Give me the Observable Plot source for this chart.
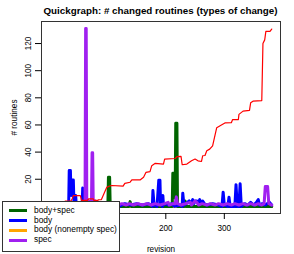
<!DOCTYPE html>
<html><head><meta charset="utf-8">
<script src="https://cdn.jsdelivr.net/npm/d3@7"></script>
<script src="https://cdn.jsdelivr.net/npm/@observablehq/plot@0.6"></script>
<style>
body{margin:0;background:#fff;font-family:"Liberation Sans",Arial,sans-serif;}
#wrap{position:relative;width:294px;height:254px;overflow:hidden;}
#title{position:absolute;left:41px;width:239px;top:0;line-height:21px;font-size:9.8px;font-weight:bold;text-align:center;white-space:nowrap;color:#000;}
#legend{position:absolute;left:2px;top:200.5px;width:118px;height:51.5px;box-sizing:border-box;border:1px solid #333;background:#fff;padding-top:4.2px;}
.row{height:9.87px;line-height:9.87px;font-size:8.4px;white-space:nowrap;position:relative;}
.sw{position:absolute;left:6px;top:3.4px;width:18px;height:3px;}
.lb{position:absolute;left:31px;top:0;}
</style></head>
<body>
<div id="wrap"><div id="chart"></div><div id="title"></div><div id="legend"></div></div>
<script>
const titleText = "Quickgraph: # changed routines (types of change)";
const xLabel = "revision";
const yLabel = "# routines";
const xTicks = [200, 300];
const yTicks = [20, 40, 60, 80, 100, 120];
const xDomain = [-12.4, 396];
const yDomain = [-5.24, 136.24];

const legendNames = ["body+spec", "body", "body (nonempty spec)", "spec"];
const legendColors = ["#006400", "#0000FF", "#FFA500", "#A020F0"];

// body (nonempty spec) - orange
const orangeRev = [1, 228, 229, 230, 381];
const orangeVal = [0, 0, 2.5, 0, 0];

// body+spec - green
const greenRev = [1, 66, 68, 70, 101, 102, 104, 105, 137, 139, 141, 211, 212, 215, 216, 217, 219, 220, 232, 233, 234, 381];
const greenVal = [0, 0, 4, 0, 0, 21.5, 21.5, 0, 0, 3.5, 0, 0, 24.4, 24.4, 6, 61.2, 61.2, 0, 0, 4, 0, 0];

// body - blue
const blueRev = [1, 10, 20, 30, 34, 35, 37, 38, 40, 42, 43, 46, 47, 55, 57, 58, 59, 65, 75, 85, 95, 110, 120, 130, 140, 150, 160, 170, 175, 177, 178, 180, 185, 188, 190, 191, 194, 195, 196, 200, 205, 210, 215, 225, 228, 229, 231, 235, 240, 243, 246, 248, 250, 253, 256, 258, 260, 263, 266, 270, 280, 290, 296, 298, 300, 306, 308, 310, 318, 320, 322, 325, 327, 329, 335, 340, 345, 350, 355, 358, 360, 365, 370, 377, 381];
const blueVal = [0, 1, 0, 1, 0, 26.5, 26.5, 8, 19.5, 19.5, 3, 8, 1, 1, 0, 13.5, 0, 1, 2, 1, 0, 1, 0, 2, 1, 2, 1, 2, 1, 0, 11.7, 1, 0, 19.3, 19.3, 2, 0, 8, 1, 2, 1, 2, 0, 1, 0, 9.7, 1, 2, 4, 2, 5, 2, 4, 4, 3, 5, 2, 4, 2, 1, 2, 1, 0, 10.5, 1, 0, 6.8, 0, 0, 16, 0, 0, 16.6, 0, 2, 1, 3, 1, 3, 5, 1, 2, 1, 3, 1];

// spec - purple
const purpleRev = [1, 8, 15, 22, 30, 36, 44, 50, 56, 62, 63, 64, 65, 68, 70, 73, 74, 75, 76, 79, 82, 90, 100, 110, 118, 125, 132, 138, 145, 152, 160, 168, 175, 182, 190, 198, 204, 206, 212, 216, 218, 220, 226, 234, 242, 244, 250, 253, 256, 262, 270, 276, 284, 290, 298, 305, 312, 318, 325, 332, 338, 345, 352, 358, 364, 368, 370, 374, 376, 381];
const purpleVal = [1, 2, 1, 2, 1, 2, 1, 2, 1, 1, 131, 131, 2, 4, 1, 2, 39.5, 39.5, 3, 4, 1, 2, 1, 2, 1, 2, 1, 2, 1, 2, 1, 2, 1, 2, 1, 2, 3, 1, 2, 2, 7, 2, 1, 2, 3, 1, 4, 3, 1, 2, 1, 2, 1, 2, 1, 2, 1, 2, 1, 2, 1, 2, 1, 2, 1, 2, 14.6, 14.6, 2, 1];

// cumulative - red
const redRev = [1, 20, 28, 38, 40, 42, 54, 56, 66, 68, 76, 77, 84, 85, 90, 95, 99, 104, 108, 127, 130, 139, 142, 156, 162, 166, 173, 176, 182, 196, 198, 216, 219, 226, 228, 236, 244, 250, 255, 261, 263, 267, 270, 275, 280, 287, 295, 301, 312, 314, 324, 325, 332, 343, 345, 349, 364, 366, 369, 371, 378, 381];
const redVal = [0, 1, 3.9, 4, 5.6, 8, 8, 4.4, 4.5, 5.6, 5.6, 4.4, 4.4, 4.9, 5, 10, 14, 15, 15.4, 14.9, 17, 17.8, 19.5, 19.5, 21.5, 25, 25.6, 30, 31.7, 31.2, 34.9, 35.3, 36.6, 36.8, 30.7, 31.2, 33.6, 34.9, 33.6, 33.1, 37.3, 37.5, 41, 42.2, 44.6, 58, 60, 61.5, 61.7, 63.9, 64, 67.8, 70.2, 70.7, 76.3, 77.5, 78, 120, 122.7, 129, 129, 130.7];

const toRows = (revs, vals) => revs.map((r, i) => ({rev: r, val: vals[i]}));
const lineSeries = [
  {rows: toRows(orangeRev, orangeVal), color: legendColors[2], w: 3},
  {rows: toRows(greenRev, greenVal), color: legendColors[0], w: 3},
  {rows: toRows(blueRev, blueVal), color: legendColors[1], w: 3},
  {rows: toRows(purpleRev, purpleVal), color: legendColors[3], w: 3},
  {rows: toRows(redRev, redVal), color: "#FF0000", w: 1.2}
];

const chart = Plot.plot({
  width: 294, height: 254,
  marginLeft: 41, marginRight: 14, marginTop: 21, marginBottom: 41,
  style: {fontFamily: '"Liberation Sans", Arial, sans-serif', fontSize: "8.2px", background: "#fff", color: "#000"},
  x: {domain: xDomain, label: null},
  y: {domain: yDomain, label: null},
  marks: [
    ...lineSeries.map(s => Plot.line(s.rows, {x: "rev", y: "val", stroke: s.color, strokeWidth: s.w})),
    Plot.frame({stroke: "#333"}),
    Plot.axisX({ticks: xTicks, tickSize: 6, tickPadding: 6, label: xLabel, labelArrow: false, labelAnchor: "center", labelOffset: 38}),
    Plot.axisY({ticks: yTicks, tickSize: 6, tickPadding: 5, tickRotate: -90, label: yLabel, labelArrow: false, labelAnchor: "center", labelOffset: 30})
  ]
});
document.getElementById("chart").appendChild(chart);
document.getElementById("title").textContent = titleText;
const lg = document.getElementById("legend");
legendNames.forEach((n, i) => {
  const row = document.createElement("div"); row.className = "row";
  const sw = document.createElement("span"); sw.className = "sw"; sw.style.background = legendColors[i];
  const lb = document.createElement("span"); lb.className = "lb"; lb.textContent = n;
  row.appendChild(sw); row.appendChild(lb); lg.appendChild(row);
});
</script>
</body></html>
